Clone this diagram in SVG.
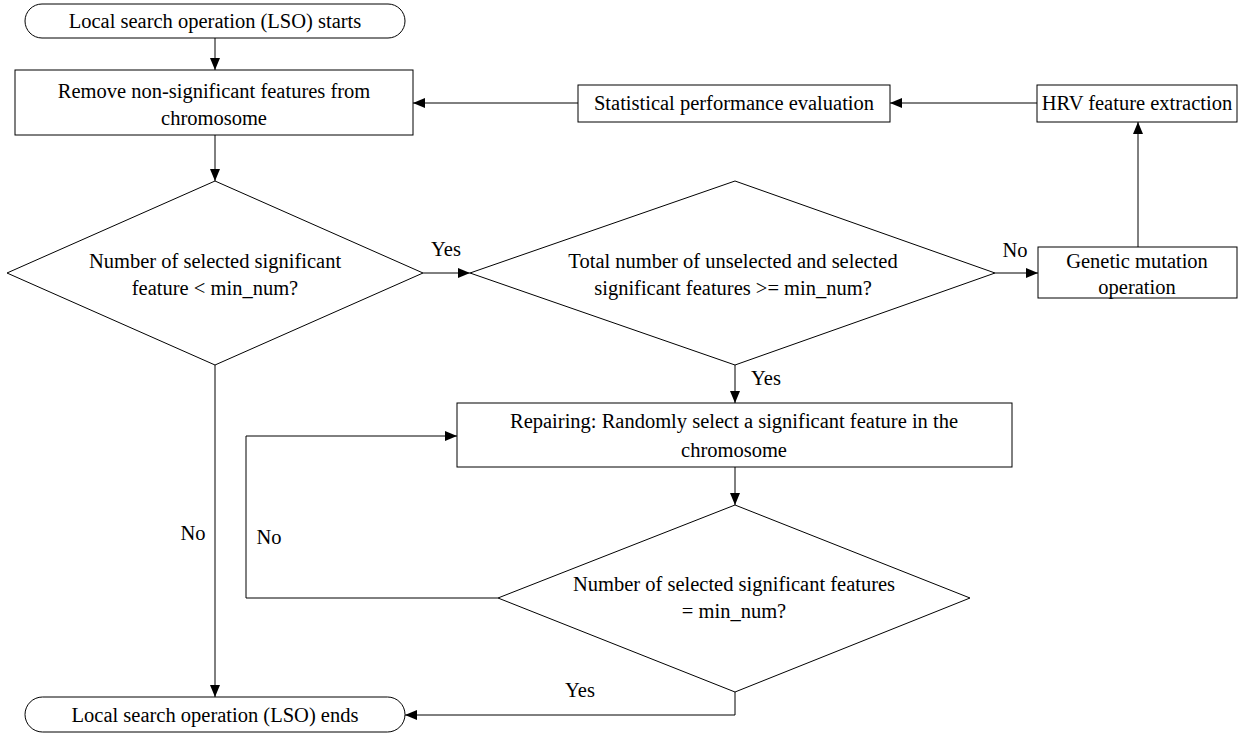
<svg xmlns="http://www.w3.org/2000/svg" width="1251" height="735" viewBox="0 0 1251 735">
<defs>
<marker id="ah" markerWidth="12" markerHeight="10" refX="12" refY="5" orient="auto" markerUnits="userSpaceOnUse">
<path d="M0,0 L12,5 L0,10 Z" fill="#000"/>
</marker>
<style>
.s{fill:#fff;stroke:#000;stroke-width:1}
.c{fill:none;stroke:#000;stroke-width:1;marker-end:url(#ah)}
text{font-family:"Liberation Serif","Times New Roman",serif;font-size:20.5px;fill:#000}
.m{text-anchor:middle}
</style>
</defs>
<rect width="1251" height="735" fill="#fff"/>
<g id="connectors">
<path class="c" d="M215,38 V70"/>
<path class="c" d="M578,103 H413"/>
<path class="c" d="M1037,103 H890"/>
<path class="c" d="M1138,247 V122"/>
<path class="c" d="M215,135 V181"/>
<path class="c" d="M423,273 H470"/>
<path class="c" d="M995,273 H1038"/>
<path class="c" d="M735,365 V403"/>
<path class="c" d="M735,467 V505"/>
<path class="c" d="M498,598 H246 V436 H457"/>
<path class="c" d="M215,365 V697"/>
<path class="c" d="M735,692 V715 H405"/>
<text x="446" y="256" class="m">Yes</text>
<text x="1015" y="257" class="m">No</text>
<text x="766" y="385" class="m">Yes</text>
<text x="269" y="544" class="m">No</text>
<text x="193" y="540" class="m">No</text>
<text x="580" y="697" class="m">Yes</text>
</g>
<g id="start">
<rect class="s" x="25" y="4" width="380" height="34" rx="17"/>
<text x="215" y="28" class="m">Local search operation (LSO) starts</text>
</g>
<g id="remove">
<rect class="s" x="15" y="70" width="398" height="65"/>
<text x="214" y="98" class="m">Remove non-significant features from</text>
<text x="214" y="125" class="m">chromosome</text>
</g>
<g id="stat">
<rect class="s" x="578" y="85" width="312" height="37"/>
<text x="734" y="110" class="m">Statistical performance evaluation</text>
</g>
<g id="hrv">
<rect class="s" x="1037" y="85" width="200" height="37"/>
<text x="1137" y="110" class="m">HRV feature extraction</text>
</g>
<g id="dec1">
<polygon class="s" points="215,181 423,273 215,365 7,273"/>
<text x="215" y="268" class="m">Number of selected significant</text>
<text x="215" y="295" class="m">feature &lt; min_num?</text>
</g>
<g id="dec2">
<polygon class="s" points="735,181 995,273 735,365 470,273"/>
<text x="733" y="268" class="m">Total number of unselected and selected</text>
<text x="733" y="295" class="m">significant features &gt;= min_num?</text>
</g>
<g id="mutation">
<rect class="s" x="1038" y="247" width="199" height="51"/>
<text x="1137" y="268" class="m">Genetic mutation</text>
<text x="1137" y="294" class="m">operation</text>
</g>
<g id="repair">
<rect class="s" x="457" y="403" width="555" height="64"/>
<text x="734" y="428" class="m">Repairing: Randomly select a significant feature in the</text>
<text x="734" y="457" class="m">chromosome</text>
</g>
<g id="dec3">
<polygon class="s" points="735,505 970,598 735,692 498,598"/>
<text x="734" y="591" class="m">Number of selected significant features</text>
<text x="734" y="618" class="m">= min_num?</text>
</g>
<g id="end">
<rect class="s" x="25" y="697" width="380" height="35" rx="17.5"/>
<text x="215" y="722" class="m">Local search operation (LSO) ends</text>
</g>
</svg>
